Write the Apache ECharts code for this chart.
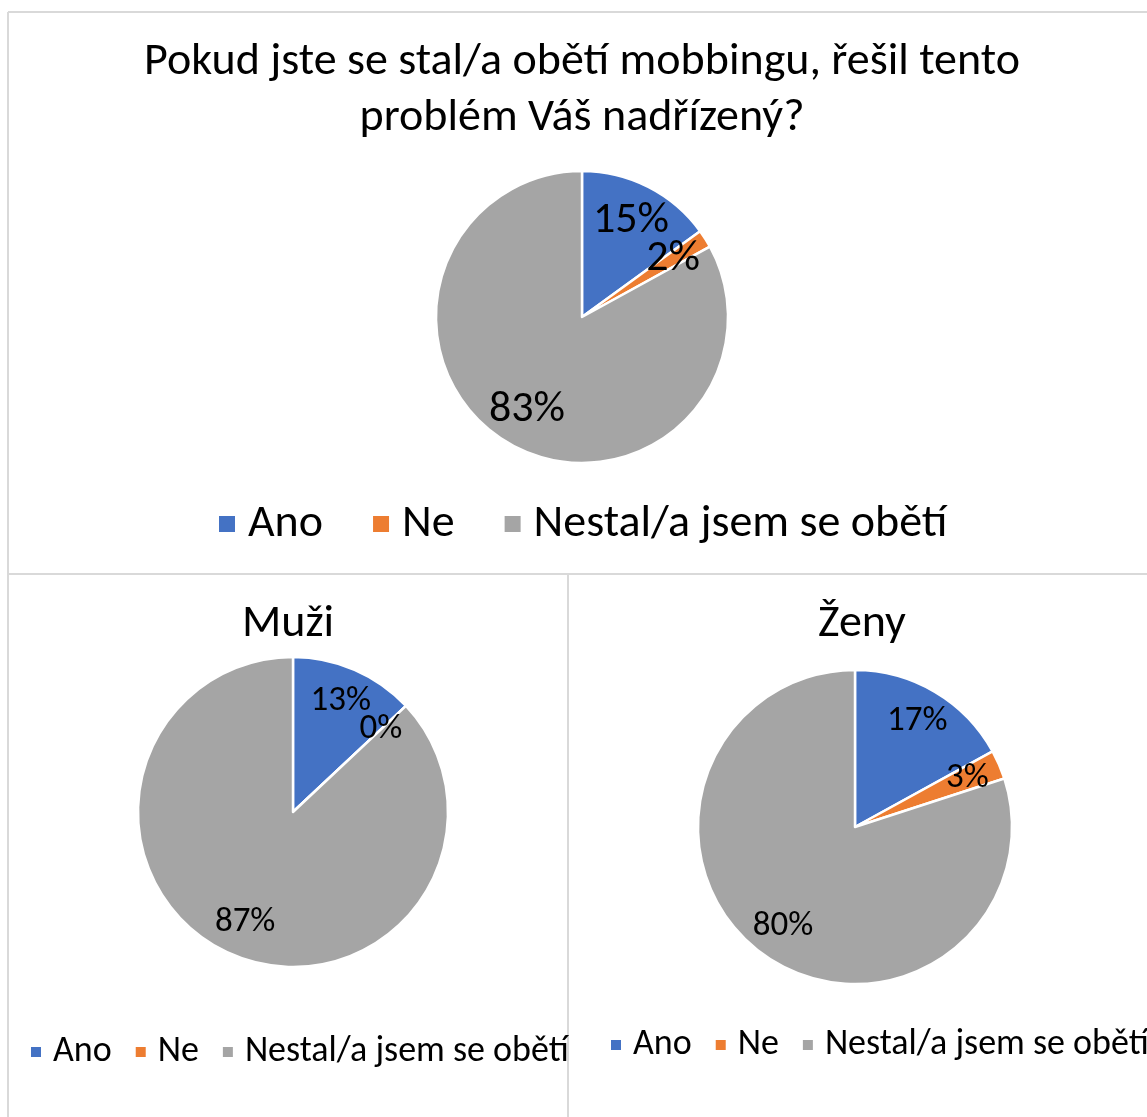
<!DOCTYPE html>
<html>
<head>
<meta charset="utf-8">
<script src="https://cdn.jsdelivr.net/npm/echarts@6/dist/echarts.min.js"></script>
<style>
  html, body { margin: 0; padding: 0; background: #fff; }
  #main { width: 1147px; height: 1117px; }
</style>
</head>
<body>
<div id="main"></div>
<script>
var categories = ['Ano', 'Ne', 'Nestal/a jsem se obětí'];
var celkemValues = [15, 2, 83];
var muziValues = [13, 0, 87];
var zenyValues = [17, 3, 80];
var colors = ['#4472C4', '#ED7D31', '#A5A5A5'];

var font = "Carlito, 'Liberation Sans Narrow', Lato, sans-serif";

var dom = document.getElementById('main');
var myChart = echarts.init(dom);

function toData(values) {
    return categories.map(function (name, i) {
        return { name: name, value: values[i] };
    });
}

// pie itself + a transparent ring that carries the labels further out
function pieSeries(values, center, r, labelR0, fontSize) {
    return [
        {
            type: 'pie',
            center: center,
            radius: [0, r],
            startAngle: 90,
            clockwise: true,
            silent: true,
            label: { show: false },
            labelLine: { show: false },
            itemStyle: { borderColor: '#fff', borderWidth: 2.5 },
            data: toData(values)
        },
        {
            type: 'pie',
            center: center,
            radius: [labelR0, r],
            startAngle: 90,
            clockwise: true,
            silent: true,
            avoidLabelOverlap: false,
            minShowLabelAngle: 0,
            itemStyle: { color: 'rgba(0,0,0,0)', borderWidth: 0 },
            label: {
                show: true,
                position: 'inside',
                formatter: '{c}%',
                color: '#000',
                fontFamily: font,
                fontSize: fontSize
            },
            labelLayout: { hideOverlap: false },
            labelLine: { show: false },
            data: toData(values)
        }
    ];
}

function legend(left, top, size, fontSize, gap, pad) {
    return {
        left: left,
        top: top,
        width: 1100,
        orient: 'horizontal',
        icon: 'rect',
        itemWidth: size,
        itemHeight: size,
        itemGap: gap,
        selectedMode: false,
        data: categories,
        textStyle: {
            fontFamily: font,
            fontSize: fontSize,
            color: '#000',
            padding: [0, 0, 0, pad]
        }
    };
}

var lineStyle = { stroke: '#d9d9d9', lineWidth: 2 };

option = {
    color: colors,
    title: [
        {
            text: 'Pokud jste se stal/a obětí mobbingu, řešil tento\nproblém Váš nadřízený?',
            left: 577,
            top: 29,
            textAlign: 'center',
            textStyle: { fontFamily: font, fontSize: 46, fontWeight: 'normal', color: '#000', lineHeight: 56 }
        },
        {
            text: 'Muži',
            left: 283,
            top: 596,
            textAlign: 'center',
            textStyle: { fontFamily: font, fontSize: 46, fontWeight: 'normal', color: '#000' }
        },
        {
            text: 'Ženy',
            left: 857,
            top: 596,
            textAlign: 'center',
            textStyle: { fontFamily: font, fontSize: 46, fontWeight: 'normal', color: '#000' }
        }
    ],
    legend: [
        legend(212, 496, 18, 46, 48, 7),
        legend(24, 1029, 12, 36, 22, 6),
        legend(604, 1022, 12, 36, 22, 6)
    ],
    graphic: [
        { type: 'line', shape: { x1: 8, y1: 12, x2: 1147, y2: 12 }, style: lineStyle },
        { type: 'line', shape: { x1: 8, y1: 12, x2: 8, y2: 1117 }, style: lineStyle },
        { type: 'line', shape: { x1: 8, y1: 574, x2: 1147, y2: 574 }, style: lineStyle },
        { type: 'line', shape: { x1: 568, y1: 574, x2: 568, y2: 1117 }, style: lineStyle }
    ],
    series: [].concat(
        pieSeries(celkemValues, [582, 317], 146, 64, 44),
        pieSeries(muziValues, [293, 812], 155, 80, 35),
        pieSeries(zenyValues, [855, 827], 157, 82, 35)
    )
};

if (option && typeof option === 'object') {
    myChart.setOption(option, true);
}
</script>
</body>
</html>
